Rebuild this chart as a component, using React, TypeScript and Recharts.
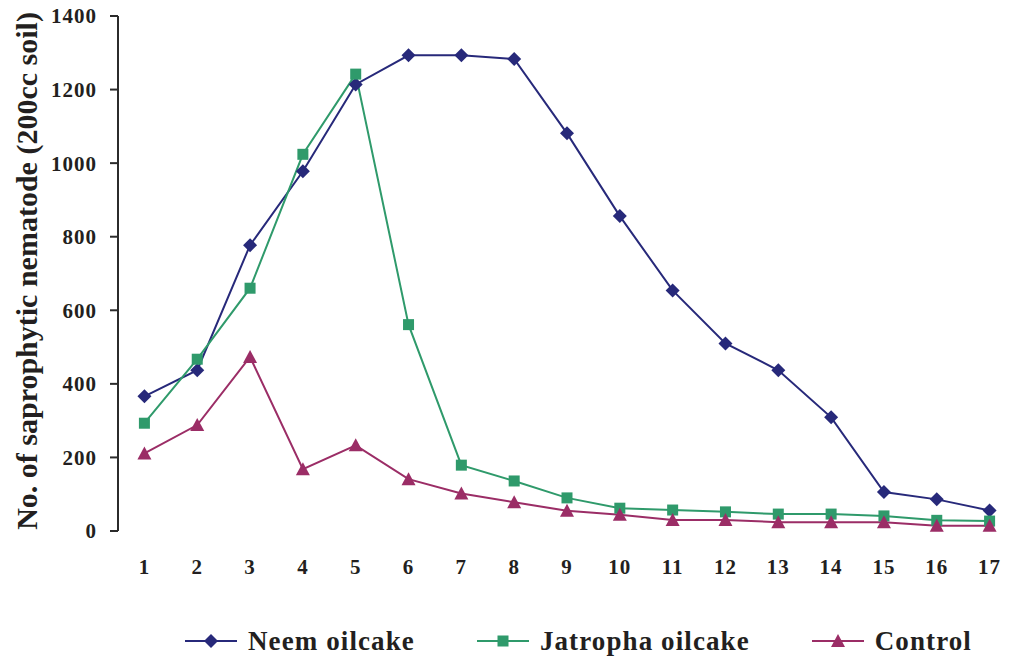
import React from 'react'
import { Legend, Line, LineChart, XAxis, YAxis } from 'recharts'

// days after application
const days = [1, 2, 3, 4, 5, 6, 7, 8, 9, 10, 11, 12, 13, 14, 15, 16, 17]
const neem = [366, 437, 777, 978, 1214, 1293, 1293, 1283, 1081, 856, 654, 510, 437, 309, 106, 86, 56]
const jatropha = [293, 467, 660, 1024, 1242, 561, 179, 136, 90, 62, 57, 52, 46, 46, 41, 29, 27]
const control = [211, 288, 473, 168, 233, 141, 102, 78, 55, 44, 30, 30, 24, 24, 24, 14, 14]
const yTicks = [0, 200, 400, 600, 800, 1000, 1200, 1400]
const boundaries = [days[0] - 0.5, ...days.map((d) => d + 0.5)]

const data = days.map((d, i) => ({ day: d, neem: neem[i], jatropha: jatropha[i], control: control[i] }))

const NAVY = '#27297a'
const GREEN = '#2f9a6b'
const PLUM = '#9b2d66'
const AXIS = '#2b2b2b'
const INK = '#231f20'
const FONT = '"Liberation Serif", "Times New Roman", serif'

const Diamond = ({ cx, cy, fill }: any) => {
  if (cx == null || cy == null) return null
  const r = 7
  return <polygon points={`${cx},${cy - r} ${cx + r},${cy} ${cx},${cy + r} ${cx - r},${cy}`} fill={fill} />
}
const Square = ({ cx, cy, fill }: any) => {
  if (cx == null || cy == null) return null
  return <rect x={cx - 5.5} y={cy - 5.5} width={11} height={11} fill={fill} />
}
const Triangle = ({ cx, cy, fill }: any) => {
  if (cx == null || cy == null) return null
  return <polygon points={`${cx},${cy - 7} ${cx + 7},${cy + 6} ${cx - 7},${cy + 6}`} fill={fill} />
}

const series = [
  { key: 'neem', name: 'Neem oilcake', color: NAVY, Shape: Diamond },
  { key: 'jatropha', name: 'Jatropha oilcake', color: GREEN, Shape: Square },
  { key: 'control', name: 'Control', color: PLUM, Shape: Triangle },
]

const LegendBox = () => (
  <div
    style={{
      display: 'flex',
      alignItems: 'center',
      gap: 62,
      paddingLeft: 185,
      height: 40,
      whiteSpace: 'nowrap',
      fontFamily: FONT,
      fontWeight: 'bold',
      fontSize: 27,
      letterSpacing: 1.1,
      color: INK,
    }}
  >
    {series.map((s) => (
      <div key={s.key} style={{ display: 'flex', alignItems: 'center', flexShrink: 0 }}>
        <svg width={52} height={16} style={{ marginRight: 11, flexShrink: 0 }}>
          <line x1={0} y1={8} x2={52} y2={8} stroke={s.color} strokeWidth={2} />
          <s.Shape cx={26} cy={8} fill={s.color} />
        </svg>
        <span>{s.name}</span>
      </div>
    ))}
  </div>
)

const App = () => {
  const tickStyle = { fontFamily: FONT, fontWeight: 'bold', fontSize: 21, letterSpacing: 1, fill: INK }
  return (
    <div style={{ position: 'absolute', left: 0, top: 0, background: '#fff' }}>
      <LineChart width={1016} height={663} data={data} margin={{ top: 16, right: 0, bottom: 2, left: 0 }}>
        <XAxis
          xAxisId="grid"
          type="number"
          dataKey="day"
          domain={[0.5, 17.5]}
          ticks={boundaries}
          tick={false}
          tickSize={8}
          height={0}
          stroke={AXIS}
          strokeWidth={2}
          allowDataOverflow
        />
        <XAxis
          xAxisId="labels"
          type="number"
          dataKey="day"
          domain={[0.5, 17.5]}
          ticks={days}
          tickLine={false}
          axisLine={false}
          tickSize={0}
          tickMargin={28}
          height={90}
          tick={tickStyle}
          interval={0}
          allowDataOverflow
        />
        <YAxis
          width={118}
          domain={[0, 1400]}
          ticks={yTicks}
          tickSize={8}
          tickMargin={13}
          stroke={AXIS}
          strokeWidth={2}
          tick={tickStyle}
          interval={0}
          label={{
            content: () => (
              <text
                transform="translate(37,271) rotate(-90)"
                textAnchor="middle"
                style={{ fontFamily: FONT, fontWeight: 'bold', fontSize: 30, fill: INK }}
              >
                No. of saprophytic nematode (200cc soil)
              </text>
            ),
          }}
        />
        <Legend verticalAlign="bottom" wrapperStyle={{ left: 0, width: 1016 }} content={() => <LegendBox />} />
        {series.map((s) => (
          <Line
            key={s.key}
            xAxisId="labels"
            dataKey={s.key}
            name={s.name}
            stroke={s.color}
            strokeWidth={2}
            dot={<s.Shape fill={s.color} />}
            activeDot={false}
            isAnimationActive={false}
          />
        ))}
      </LineChart>
    </div>
  )
}

export default App
